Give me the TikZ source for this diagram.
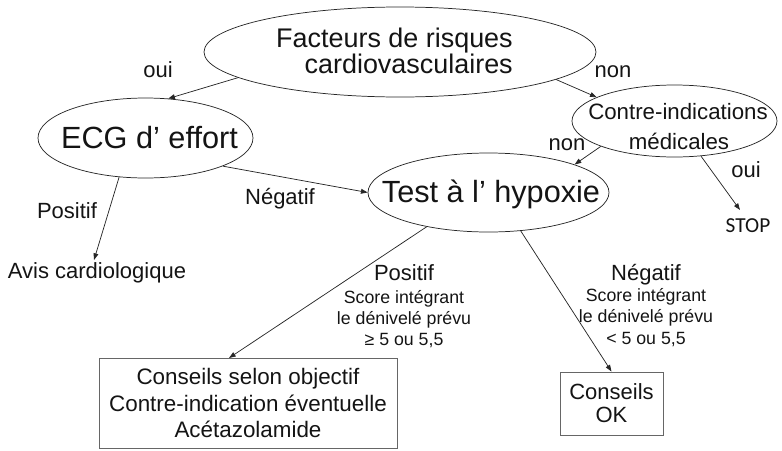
\documentclass[tikz,border=0pt]{standalone}
\usepackage{fontspec}
\setmainfont{Liberation Sans}
\newfontfamily\stopfont{Carlito}
\usetikzlibrary{shapes.geometric,arrows.meta}
\begin{document}
\begin{tikzpicture}[x=0.75pt,y=-0.75pt,
  ell/.style={draw=black!85, line width=0.55pt, ellipse, inner sep=0pt},
  box/.style={draw=black!60, line width=0.7pt, rectangle, inner sep=0pt, align=center, text=black!92},
  txt/.style={inner sep=0pt, text=black!92},
  huge/.style={txt, font=\fontsize{23}{27}\selectfont},
  head/.style={txt, font=\fontsize{20.2}{24}\selectfont},
  lbl/.style={txt, anchor=base, font=\fontsize{16.5}{20}\selectfont},
  small/.style={txt, anchor=base, font=\fontsize{13.3}{16}\selectfont},
  arr/.style={-{Triangle[length=5pt,width=3.6pt]}, line width=0.55pt, draw=black!85}]
\useasboundingbox (0,0) rectangle (782,450);

% ellipses
\node[ell, minimum width=294pt, minimum height=67.5pt] (F) at (400,52) {};
\node[ell, minimum width=161.25pt, minimum height=60pt] (E) at (145.5,138) {};
\node[ell, minimum width=153.75pt, minimum height=54pt] (C) at (674.5,121) {};
\node[ell, minimum width=180.75pt, minimum height=59.25pt] (T) at (488.5,192.5) {};

% ellipse texts
\node[head, anchor=base east] (Ft1) at (513,47) {Facteurs de risques};
\node[head, anchor=base east] (Ft2) at (513,73) {cardiovasculaires};
\node[huge, anchor=base] (Et) at (149.5,148) {ECG d’ effort};
\node[huge, anchor=base] (Tt) at (491,202) {Test à l’ hypoxie};
\node[lbl, font=\fontsize{16.7}{20}\selectfont] (Ct1) at (678,119) {Contre-indications};
\node[lbl, font=\fontsize{16.7}{20}\selectfont] (Ct2) at (679,149) {médicales};

% labels
\node[lbl] (oui1) at (158,77) {oui};
\node[lbl] (non1) at (613,77) {non};
\node[lbl] (non2) at (567,150) {non};
\node[lbl] (oui2) at (746,177) {oui};
\node[lbl] (neg1) at (280,204) {Négatif};
\node[lbl] (pos1) at (67,218) {Positif};
\node[lbl] (avis) at (97,278) {Avis cardiologique};
\node[txt, anchor=base, font=\stopfont\fontsize{16}{19}\selectfont] (stop) at (748,232) {STOP};

\node[lbl] (pos2) at (404,280) {Positif};
\node[small] (pos2a) at (404,303) {Score intégrant};
\node[small] (pos2b) at (404,324) {le dénivelé prévu};
\node[small] (pos2c) at (404,345) {≥ 5 ou 5,5};

\node[lbl] (neg2) at (646,280) {Négatif};
\node[small] (neg2a) at (646,301) {Score intégrant};
\node[small] (neg2b) at (646,322) {le dénivelé prévu};
\node[small] (neg2c) at (646,344) {< 5 ou 5,5};

% boxes
\node[box, minimum width=223.5pt, minimum height=67.5pt, font=\fontsize{16.8}{19.9}\selectfont] (B1) at (248,403) {Conseils selon objectif\\Contre-indication éventuelle\\Acétazolamide};
\node[box, minimum width=77.25pt, minimum height=47.25pt, font=\fontsize{16.5}{17.25}\selectfont] (B2) at (611.5,403.5) {Conseils\\OK};

% free ends
\coordinate (avisin) at (94,260);
\coordinate (stopin) at (740,210);
\coordinate (b1in) at (229,358);

% connectors
\draw[arr] (F.189.2) -- (E.60.6);
\draw[arr] (F.350.9) -- (C.163.2);
\draw[arr] (E.340.6) -- (T.180);
\draw[arr] (C.199.9) -- (T.18.2);
\draw[arr] (C.307.4) -- (stopin);
\draw[arr] (E.236.5) -- (avisin);
\draw[arr] (T.209.2) -- (b1in);
\draw[arr] (T.310.4) -- (B2.north);
\end{tikzpicture}
\end{document}
